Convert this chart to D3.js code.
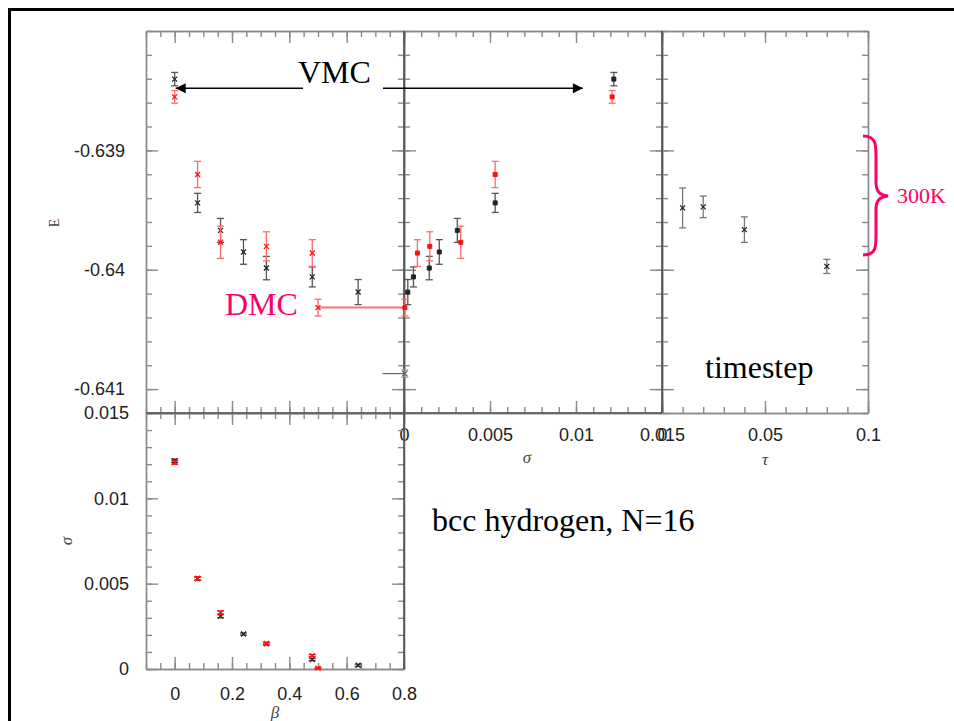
<!DOCTYPE html>
<html>
<head>
<meta charset="utf-8">
<script src="https://cdn.jsdelivr.net/npm/d3@7"></script>
<style>
  body { margin: 0; background: #fff; }
  svg { display: block; }
</style>
</head>
<body>
<svg id="chart" width="954" height="721"></svg>
<script>
// black series (VMC-style points), by Jastrow beta
var blackBeta = [0, 0.08, 0.16, 0.24, 0.32, 0.48, 0.64];
var blackSigma = [0.0122, 0.0053, 0.0031, 0.00205, 0.00147, 0.00055, 0.00022];
var blackSigmaErr = [0.0001, 0.0001, 0.0001, 0.00006, 0.00006, 0.00006, 0.00006];
var blackE = [-0.638403, -0.63944, -0.63967, -0.639851, -0.639986, -0.64006, -0.640187];
var blackEErr = [0.000056, 0.00008, 0.0001, 0.000103, 0.000098, 0.000084, 0.000105];

// red series
var redBeta = [0, 0.08, 0.16, 0.32, 0.48, 0.5];
var redSigma = [0.0121, 0.0053, 0.0033, 0.0015, 0.00078, 0.00005];
var redSigmaErr = [0.0001, 0.0001, 0.0001, 0.00006, 0.00006, 0.00004];
var redE = [-0.638552, -0.639202, -0.63977, -0.639804, -0.63986, -0.640317];
var redEErr = [0.000053, 0.00011, 0.000135, 0.000122, 0.000112, 0.00007];

// lone point near sigma = 0 with a horizontal bar
var extrapSigma = [0.00005];
var extrapSigmaErrLo = [0.0013];
var extrapE = [-0.64087];

// timestep study
var tau = [0.01, 0.02, 0.04, 0.08];
var tauE = [-0.639482, -0.639473, -0.639664, -0.639972];
var tauEErr = [0.000167, 0.00009, 0.000107, 0.000059];

// ticks
var eTicks = [-0.641, -0.64, -0.639];
var betaTicks = [0, 0.2, 0.4, 0.6, 0.8];
var sigmaTicks = [0, 0.005, 0.01, 0.015];
var tauTicks = [0, 0.05, 0.1];

var PINK = "#ff0066";
var AXIS = "#8a8a8a";

var svg = d3.select("#chart");

function steps(lo, hi, step) {
  var n = Math.round((hi - lo) / step);
  return d3.range(n + 1).map(function(i) {
    return +(lo + i * step).toFixed(7);
  });
}

function fmt(d) {
  return String(+d.toFixed(6));
}

// slide frame
svg.append("rect")
  .attr("x", 9.5).attr("y", 9.5)
  .attr("width", 990).attr("height", 760)
  .attr("fill", "none").attr("stroke", "#000").attr("stroke-width", 3);

var xBeta = d3.scaleLinear().domain([-0.1, 0.8]).range([146, 404]);
var xSig = d3.scaleLinear().domain([0, 0.015]).range([404, 662]);
var xTau = d3.scaleLinear().domain([0, 0.1]).range([662, 868]);
var yE = d3.scaleLinear().domain([-0.6412, -0.638]).range([413, 31]);
var ySig = d3.scaleLinear().domain([0, 0.015]).range([669, 413]);

function frame(x, y, opt) {
  var g = svg.append("g").attr("class", "frame");
  var left = x.range()[0], right = x.range()[1];
  var top = y.range()[1], bottom = y.range()[0];
  var sides = [
    { make: d3.axisBottom, s: x, t: [0, bottom], major: opt.xMajor, minor: opt.xMinor, labels: opt.xLabels, pad: opt.xPad },
    { make: d3.axisTop, s: x, t: [0, top], major: opt.xMajor, minor: opt.xMinor },
    { make: d3.axisLeft, s: y, t: [left, 0], major: opt.yMajor, minor: opt.yMinor, labels: opt.yLabels, pad: opt.yPad },
    { make: d3.axisRight, s: y, t: [right, 0], major: opt.yMajor, minor: opt.yMinor }
  ];
  sides.forEach(function(side) {
    g.append("g")
      .attr("transform", "translate(" + side.t + ")")
      .call(side.make(side.s).tickValues(side.minor).tickSizeInner(-6).tickSizeOuter(0).tickFormat(""));
    g.append("g")
      .attr("transform", "translate(" + side.t + ")")
      .call(side.make(side.s).tickValues(side.major).tickSizeInner(-12).tickSizeOuter(0)
        .tickPadding(side.pad || 3)
        .tickFormat(side.labels ? fmt : ""));
  });
  g.selectAll("path.domain, line").attr("stroke", AXIS).attr("stroke-width", 1.4);
  g.selectAll("text")
    .attr("fill", "#222")
    .style("font-family", "'Liberation Sans', Arial, sans-serif")
    .style("font-size", "18px");
  return g;
}

frame(xBeta, yE, {
  xMajor: betaTicks, xMinor: steps(-0.1, 0.8, 0.05),
  yMajor: eTicks, yMinor: steps(-0.6412, -0.638, 0.0002),
  yLabels: true, yPad: 21
});
frame(xSig, yE, {
  xMajor: sigmaTicks, xMinor: steps(0, 0.015, 0.001),
  yMajor: eTicks, yMinor: steps(-0.6412, -0.638, 0.0002),
  xLabels: true, xPad: 15
});
frame(xTau, yE, {
  xMajor: tauTicks, xMinor: steps(0, 0.1, 0.01),
  yMajor: eTicks, yMinor: steps(-0.6412, -0.638, 0.0002),
  xLabels: true, xPad: 15
});
frame(xBeta, ySig, {
  xMajor: betaTicks, xMinor: steps(-0.1, 0.8, 0.05),
  yMajor: sigmaTicks, yMinor: steps(0, 0.015, 0.001),
  xLabels: true, xPad: 18, yLabels: true, yPad: 17
});

// shared inner edges read darker
svg.append("line").attr("x1", 404).attr("x2", 404).attr("y1", 31).attr("y2", 669)
  .attr("stroke", "#444").attr("stroke-width", 1.4);
svg.append("line").attr("x1", 662).attr("x2", 662).attr("y1", 31).attr("y2", 413)
  .attr("stroke", "#444").attr("stroke-width", 1.4);
svg.append("line").attr("x1", 146).attr("x2", 662).attr("y1", 413).attr("y2", 413)
  .attr("stroke", "#555").attr("stroke-width", 1.4);

// axis titles
function title(txt, x, y, rot, size, italic) {
  svg.append("text")
    .attr("transform", "translate(" + x + "," + y + ") rotate(" + rot + ")")
    .attr("text-anchor", "middle")
    .attr("fill", "#444")
    .style("font-family", "'Liberation Serif', 'DejaVu Serif', serif")
    .style("font-style", italic ? "italic" : "normal")
    .style("font-size", size + "px")
    .text(txt);
}
title("E", 59, 223, -90, 14, false);
title("σ", 72, 541, -90, 17, true);
title("σ", 527, 463, 0, 17, true);
title("τ", 765, 465, 0, 17, true);
title("β", 275, 718, 0, 17, true);

// points with error bars
function series(xs, ys, errs, xScale, yScale, col, errCol, shape) {
  var data = xs.map(function(v, i) {
    return { x: v, y: ys[i], e: errs[i] };
  });
  var g = svg.append("g");
  var cap = 3.5;
  data.forEach(function(d) {
    var cx = xScale(d.x), lo = yScale(d.y - d.e), hi = yScale(d.y + d.e);
    g.append("line").attr("x1", cx).attr("x2", cx).attr("y1", lo).attr("y2", hi)
      .attr("stroke", errCol).attr("stroke-width", 1.3);
    [lo, hi].forEach(function(yy) {
      g.append("line").attr("x1", cx - cap).attr("x2", cx + cap).attr("y1", yy).attr("y2", yy)
        .attr("stroke", errCol).attr("stroke-width", 1.3);
    });
  });
  g.selectAll("path.pt").data(data).enter().append("path")
    .attr("class", "pt")
    .attr("transform", function(d) { return "translate(" + xScale(d.x) + "," + yScale(d.y) + ")"; })
    .attr("d", shape === "square" ? "M-2,-2H2V2H-2Z" : "M-2.5,-2.5L2.5,2.5M-2.5,2.5L2.5,-2.5")
    .attr("fill", shape === "square" ? col : "none")
    .attr("stroke", col).attr("stroke-width", shape === "square" ? 1 : 1.3);
}

var DARK = "#222", DARKERR = "#555", RED = "#ff1010", REDERR = "#ff6a6a";

// DMC connector
svg.append("line")
  .attr("x1", xBeta(redBeta[5])).attr("x2", xSig(0))
  .attr("y1", yE(redE[5])).attr("y2", yE(redE[5]))
  .attr("stroke", "#ff7070").attr("stroke-width", 2);

// extrapolated point with horizontal bar
svg.append("line")
  .attr("x1", xSig(extrapSigma[0] - extrapSigmaErrLo[0])).attr("x2", xSig(extrapSigma[0]))
  .attr("y1", yE(extrapE[0])).attr("y2", yE(extrapE[0]))
  .attr("stroke", "#666").attr("stroke-width", 1.2);
series(extrapSigma, extrapE, [0.00003], xSig, yE, "#666", "#999", "x");

series(blackBeta, blackE, blackEErr, xBeta, yE, DARK, DARKERR, "x");
series(redBeta, redE, redEErr, xBeta, yE, RED, REDERR, "x");
series(blackSigma, blackE, blackEErr, xSig, yE, DARK, DARKERR, "square");
series(redSigma, redE, redEErr, xSig, yE, RED, REDERR, "square");
series(tau, tauE, tauEErr, xTau, yE, DARK, "#777", "x");
series(blackBeta, blackSigma, blackSigmaErr, xBeta, ySig, DARK, DARKERR, "x");
series(redBeta, redSigma, redSigmaErr, xBeta, ySig, RED, RED, "x");

// annotations
var defs = svg.append("defs");
defs.append("marker")
  .attr("id", "arrow")
  .attr("viewBox", "0 0 10 10").attr("refX", 10).attr("refY", 5)
  .attr("markerWidth", 12).attr("markerHeight", 10)
  .attr("markerUnits", "userSpaceOnUse")
  .attr("orient", "auto")
  .append("path").attr("d", "M0,0L10,5L0,10Z").attr("fill", "#000");

var arrowY = yE(-0.63848);
svg.append("line")
  .attr("x1", 303).attr("x2", xBeta(0) + 1).attr("y1", arrowY).attr("y2", arrowY)
  .attr("stroke", "#000").attr("stroke-width", 1.6).attr("marker-end", "url(#arrow)");
svg.append("line")
  .attr("x1", 383).attr("x2", xSig(0.0104)).attr("y1", arrowY).attr("y2", arrowY)
  .attr("stroke", "#000").attr("stroke-width", 1.6).attr("marker-end", "url(#arrow)");

function note(txt, x, y, size, col) {
  svg.append("text")
    .attr("x", x).attr("y", y)
    .attr("fill", col)
    .style("font-family", "'Liberation Serif', 'Times New Roman', serif")
    .style("font-size", size + "px")
    .text(txt);
}
note("VMC", 298, 83, 32, "#000");
note("DMC", 225, 315, 32, PINK);
note("timestep", 705, 378, 32, "#000");
note("bcc hydrogen, N=16", 432, 531, 32, "#000");
note("300K", 897, 203, 22, PINK);

// brace for 300K
svg.append("path")
  .attr("d", "M863,136 C877,136 876,146 876,160 L876,182 C876,191 879,195 888,196 " +
             "C879,197 876,201 876,210 L876,232 C876,246 877,255 863,255")
  .attr("fill", "none").attr("stroke", PINK).attr("stroke-width", 3);
</script>
</body>
</html>
